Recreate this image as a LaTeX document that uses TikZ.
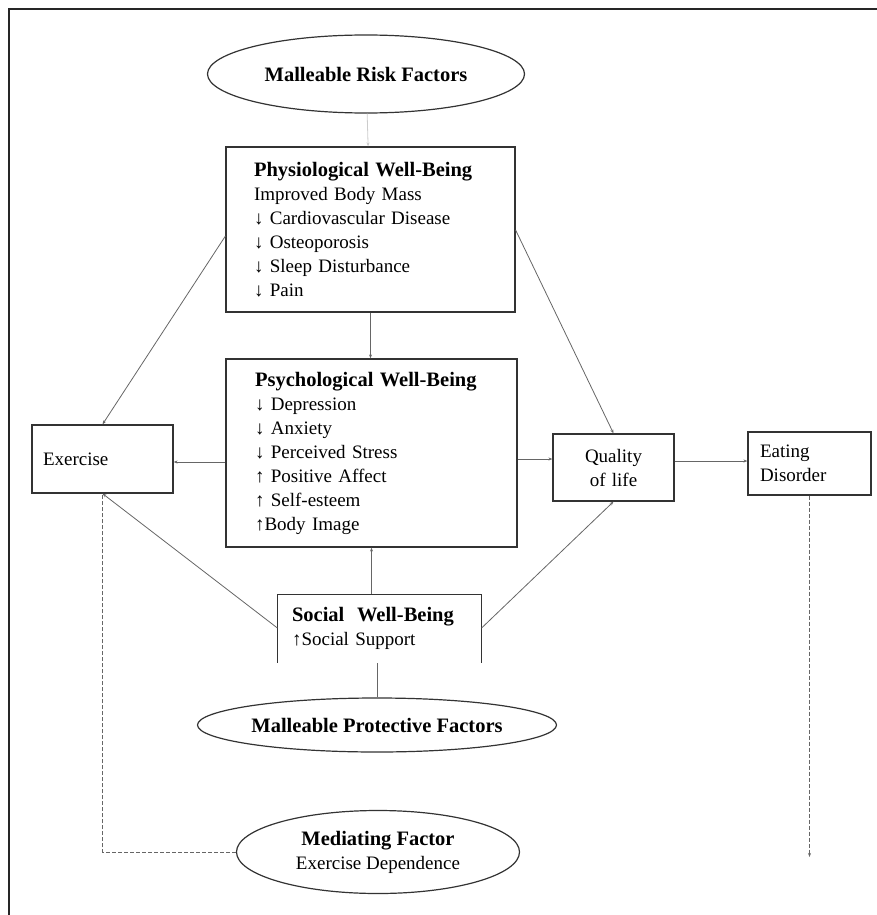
\documentclass[tikz,border=0pt]{standalone}
\usepackage{fontspec}
\setmainfont{Liberation Serif}
\usetikzlibrary{shapes.geometric,arrows.meta}

\newcommand{\hdr}[1]{{\fontsize{20.5}{24}\selectfont\bfseries #1}}

\begin{document}
\begin{tikzpicture}[x=1pt, y=-1pt,
    every node/.style={font=\fontsize{19}{24}\selectfont},
    box/.style={rectangle, draw=black!80, line width=1.2pt, inner ysep=0pt, align=left},
    factor/.style={ellipse, draw=black!80, line width=1.2pt, inner sep=0pt, align=center},
    link/.style={draw=black!60, line width=0.8pt, -{Stealth[length=4pt,width=3pt]}},
    faint/.style={link, draw=black!20},
    plain/.style={draw=black!60, line width=0.8pt},
    mediate/.style={draw=black!60, line width=0.9pt, dashed, dash pattern=on 4pt off 2pt}
  ]
    \useasboundingbox (0,0) rectangle (877,915);
    % frame
    \draw[black!85, line width=2.5pt] (9,915) -- (9,9) -- (877,9);

    \node[factor, minimum width=317, minimum height=78] (risk) at (366,74) {\hdr{Malleable Risk Factors}};
    \node[box, minimum height=165, text width=233, inner xsep=28] (physio) at (370.5,229.5)
      {\hdr{Physiological Well-Being}\\Improved Body Mass\\↓ Cardiovascular Disease\\↓ Osteoporosis\\↓ Sleep Disturbance\\↓ Pain};
    \node[box, minimum height=188, text width=233, inner xsep=29] (psych) at (371.5,453)
      {\hdr{Psychological Well-Being}\\↓ Depression\\↓ Anxiety\\↓ Perceived Stress\\↑ Positive Affect\\↑ Self-esteem\\↑Body Image};
    \node[box, minimum height=68, text width=119, inner xsep=11] (exercise) at (102.5,459) {Exercise};
    \node[box, minimum height=67, text width=121, inner xsep=0, align=center] (quality) at (613.5,467.5) {Quality\\of life};
    \node[box, minimum height=63, text width=99, inner xsep=12] (eating) at (809.5,463.5) {Eating\\Disorder};
    \node[box, draw=none, minimum height=67, text width=175, inner xsep=14] (social) at (379.5,628.5)
      {\hdr{Social~ Well-Being}\\↑Social Support};
    \draw[black!80, line width=1.2pt] (social.south west) -- (social.north west) -- (social.north east) -- (social.south east);
    \node[factor, minimum width=359, minimum height=54, inner xsep=-5] (protect) at (377,725) {\hdr{Malleable Protective Factors}};
    \node[factor, minimum width=283, minimum height=83] (mediator) at (378,852) {\hdr{Mediating Factor}\\Exercise Dependence};
    \coordinate (edend) at (809.5,857);

    \draw[faint] (risk) -- (physio);
    \draw[link] (physio.south) -- (psych.north -| physio.south);
    \draw[link] (psych.west |- 0,462) -- (exercise.east |- 0,462);
    \draw[link] (psych.east |- 0,459) -- (quality.west |- 0,459);
    \draw[link] (quality.east |- 0,461) -- (eating.west |- 0,461);
    \draw[link] (physio.west |- 0,236) -- (exercise.north);
    \draw[link] (physio.east |- 0,230) -- (quality.north);
    \draw[link] (social.west |- 0,628) -- (exercise.south);
    \draw[link] (social.east |- 0,628) -- (quality.south);
    \draw[link] (psych.south |- social.north) -- (psych.south);
    \draw[plain] (protect.north) -- (protect.north |- social.south);
    \draw[mediate, -{Stealth[length=4pt,width=3pt]}] (eating.south) -- (edend);
    \draw[mediate] (mediator.west) -- (exercise.south |- mediator.west) -- (exercise.south);
  \end{tikzpicture}
\end{document}
